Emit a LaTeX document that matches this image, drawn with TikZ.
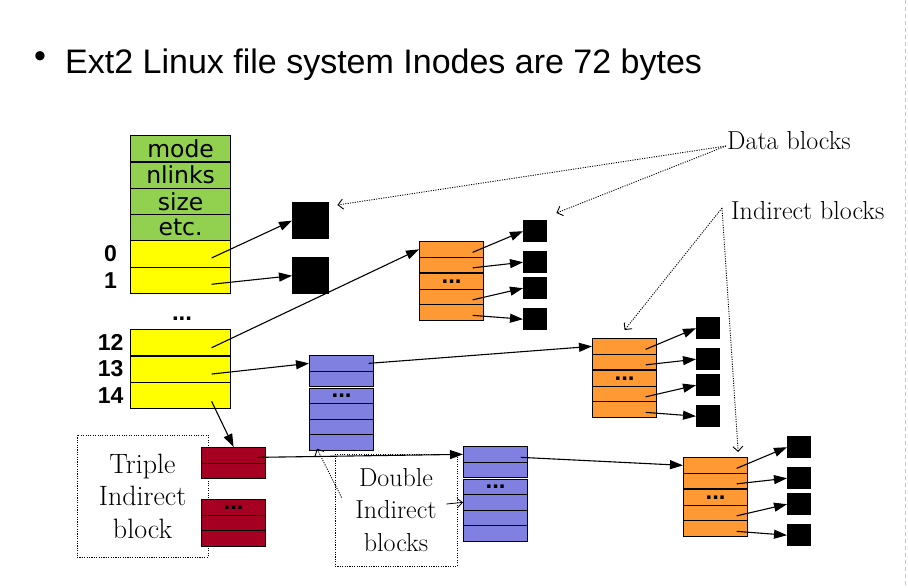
\documentclass[tikz,border=0pt]{standalone}
\usepackage{fontspec}
\newfontfamily\verdanafont{DejaVu Sans}
\newfontfamily\arialfont{Liberation Sans}
\usetikzlibrary{arrows.meta,positioning}

\definecolor{inodegreen}{HTML}{92D050}
\definecolor{inodeyellow}{HTML}{FFFF00}
\definecolor{ptrorange}{HTML}{FF9933}
\definecolor{ptrpurple}{HTML}{8080E0}
\definecolor{ptrred}{HTML}{A50021}

\tikzset{
  blkrow/.style={draw, line width=1.2pt, inner sep=0pt, anchor=north west,
    minimum width=64pt, minimum height=15.5pt},
  greenrow/.style={blkrow, fill=inodegreen, minimum width=100pt, minimum height=26.3pt,
    font=\verdanafont\fontsize{23.5}{24}\selectfont},
  yellowrow/.style={blkrow, fill=inodeyellow, minimum width=100pt, minimum height=26.3pt},
  orangerow/.style={blkrow, fill=ptrorange},
  purplerow/.style={blkrow, fill=ptrpurple},
  redrow/.style={blkrow, fill=ptrred},
  bigblk/.style={fill=black, inner sep=0pt, minimum size=37pt, anchor=north west},
  smallblk/.style={fill=black, inner sep=0pt, minimum width=24pt, minimum height=22pt, anchor=north west},
  idx/.style={font=\arialfont\bfseries\fontsize{23}{24}\selectfont},
  skipdots/.style={inner sep=0pt, font=\arialfont\bfseries\fontsize{24}{24}\selectfont},
  ptr/.style={line width=1.1pt, -{Triangle[length=13pt,width=9pt]}},
  note/.style={line width=0.9pt, dash pattern=on 1.1pt off 1.3pt, -{Straight Barb[length=5pt,width=10pt]}},
  lbl/.style={inner sep=0pt, font=\fontsize{26}{32.5}\selectfont},
  notebox/.style={draw, line width=0.9pt, dash pattern=on 1.1pt off 1.3pt, align=center, inner sep=0pt}
}

\begin{document}
\begin{tikzpicture}[x=1pt,y=-1pt]
\useasboundingbox (0,0) rectangle (908,587);

% Title line
\node[font=\arialfont\fontsize{34}{40}\selectfont] (bullet) at (40,60) {\textbullet};
\node[anchor=base west, inner sep=0pt, font=\arialfont\fontsize{34}{40}\selectfont] (title) at (65,73)
  {Ext2 Linux file system Inodes are 72 bytes};

% Slide edge
\draw[black!22, line width=0.8pt, dash pattern=on 4pt off 3pt] (905,0) -- (905,587);

% Label boxes (behind the blocks)
\node[notebox, minimum width=131pt, minimum height=122pt, font=\fontsize{28}{32.5}\selectfont]
  (triplelbl) at (142.5,496) {Triple\\Indirect\\block};
\node[notebox, minimum width=122pt, minimum height=112pt, font=\fontsize{26}{32.5}\selectfont]
  (doublelbl) at (396,510) {Double\\Indirect\\blocks};

% Inode
\foreach \txt [count=\i from 0] in {mode,nlinks,size,etc.}
  \node[greenrow] (g\i) at (130,{135+26.3*\i}) {\txt};
\node[yellowrow] (d0) at (130,240.2) {};
\node[yellowrow] (d1) at (130,266.5) {};
\foreach \n [count=\i from 0] in {12,13,14}
  \node[yellowrow] (d\n) at (130,{329+26.3*\i}) {};
\foreach \n in {0,1,12,13,14}
  \node[idx] (l\n) at ([xshift=-70pt]d\n.center) {\n};
\node[skipdots] (skip) at (182,319) {...};

% Direct data blocks
\node[bigblk] (bs0) at (292,202) {};
\node[bigblk] (bs1) at (292,257) {};
\draw[ptr] ([shift={(31,4)}]d0.center) -- (bs0.west);
\draw[ptr] ([shift={(31,4)}]d1.center) -- (bs1.west);

% Single indirect blocks with their data blocks
\foreach \b/\x/\y in {oa/419/241, ob/592/338, oc/683/457} {
  \foreach \r/\dy in {1/0,2/15.5,3/32,4/47.5,5/63}
    \node[orangerow] (\b\r) at (\x,{\y+\dy}) {};
  \node[skipdots] at (\b3) {...};
  \foreach \s/\r/\dy in {1/1/-21,2/2/10,3/4/36,4/5/67} {
    \node[smallblk] (\b sq\s) at ({\x+104},{\y+\dy}) {};
    \draw[ptr] ([shift={(21,3)}]\b\r.center) -- (\b sq\s.west);
  }
}

% Double indirect blocks
\foreach \b/\x/\y in {pa/309/355, pb/463/446} {
  \foreach \r/\dy in {1/0,2/15.5,3/32.5,4/48,5/63.5,6/79}
    \node[purplerow] (\b\r) at (\x,{\y+\dy}) {};
  \node[skipdots] at (\b3) {...};
}

% Triple indirect blocks
\node[redrow] (ra1) at (201,447) {};
\node[redrow] (ra2) at (201,462.5) {};
\foreach \r/\dy in {1/0,2/15.5,3/31}
  \node[redrow] (rb\r) at (201,{499+\dy}) {};
\node[skipdots] at (rb1) {...};

% Pointers out of the inode and between levels
\draw[ptr] ([shift={(31,5)}]d12.center) -- (oa1.west);
\draw[ptr] ([shift={(31,5)}]d13.center) -- (pa1.west);
\draw[ptr] ([shift={(31,6)}]d14.center) -- (ra1.north);
\draw[ptr] ([shift={(27,0)}]pa1.center) -- (ob1.west);
\draw[ptr] ([shift={(24,2)}]ra1.center) -- (pb1.west);
\draw[ptr] ([shift={(25,3)}]pb1.center) -- (oc1.west);

% Labels
\node[lbl, anchor=west] (datalbl) at (727,141) {Data blocks};
\node[lbl, anchor=west] (indlbl) at (731,211) {Indirect blocks};
\draw[note] ([shift={(-1,5)}]datalbl.west) -- ([shift={(8,3)}]bs0.north east);
\draw[note] ([shift={(-1,5)}]datalbl.west) -- ([shift={(9,-7)}]oasq1.north east);
\draw[note] ([shift={(-9,-3)}]indlbl.west) -- ([shift={(0,-8)}]ob1.north);
\draw[note] ([shift={(-9,-3)}]indlbl.west) -- ([shift={(-10,-5)}]oc1.north east);
\draw[note] ([shift={(7,44)}]doublelbl.north west) -- ([shift={(8,-2)}]pa6.south west);
\draw[line width=0.8pt, -{Straight Barb[length=5pt,width=9pt]}] ([shift={(-11,-6)}]doublelbl.east) -- (pb4.west);
\end{tikzpicture}
\end{document}
